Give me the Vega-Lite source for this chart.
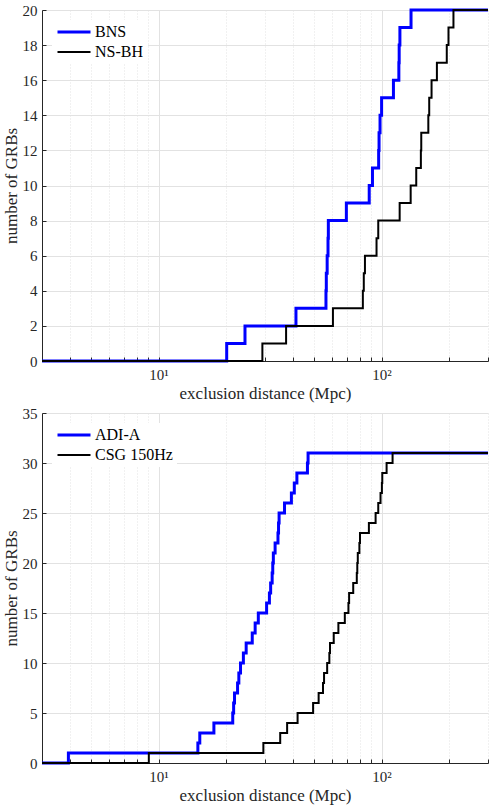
{
  "$schema": "https://vega.github.io/schema/vega-lite/v6.json",
  "padding": {"left": 2, "top": 3, "right": 2, "bottom": 2},
  "bounds": "flush",
  "spacing": 52,
  "resolve": {
    "scale": {"color": "independent", "strokeWidth": "independent", "x": "independent", "y": "independent"},
    "legend": {"color": "independent", "strokeWidth": "independent"}
  },
  "config": {
    "view": {"stroke": null},
    "font": "Liberation Serif",
    "axis": {
      "domainColor": "#262626",
      "domainWidth": 1,
      "tickColor": "#262626",
      "tickSize": -4,
      "labelColor": "#262626",
      "titleColor": "#262626",
      "labelFont": "Liberation Serif",
      "titleFont": "Liberation Serif",
      "labelFontSize": 15,
      "titleFontSize": 17,
      "titleFontWeight": "normal",
      "gridColor": "#e2e2e2",
      "gridWidth": 1
    },
    "axisY": {"labelPadding": 9, "titlePadding": 2},
    "axisX": {"labelPadding": 10, "titlePadding": 3},
    "legend": {
      "orient": "top-left",
      "offset": 10,
      "padding": 4,
      "fillColor": "white",
      "symbolType": "stroke",
      "symbolSize": 1089,
      "clipHeight": 16,
      "rowPadding": 4,
      "labelOffset": 3,
      "labelFont": "Liberation Serif",
      "labelFontSize": 16,
      "labelColor": "#000000"
    }
  },
  "datasets": {
    "top": [
      {"s": "BNS", "d": 3, "n": 0},
      {"s": "BNS", "d": 20.2, "n": 1},
      {"s": "BNS", "d": 24.4, "n": 2},
      {"s": "BNS", "d": 41.3, "n": 3},
      {"s": "BNS", "d": 56.3, "n": 4},
      {"s": "BNS", "d": 56.5, "n": 5},
      {"s": "BNS", "d": 57.0, "n": 6},
      {"s": "BNS", "d": 57.5, "n": 7},
      {"s": "BNS", "d": 57.7, "n": 8},
      {"s": "BNS", "d": 69.5, "n": 9},
      {"s": "BNS", "d": 88.0, "n": 10},
      {"s": "BNS", "d": 91.0, "n": 11},
      {"s": "BNS", "d": 97.0, "n": 12},
      {"s": "BNS", "d": 97.4, "n": 13},
      {"s": "BNS", "d": 98.4, "n": 14},
      {"s": "BNS", "d": 100.0, "n": 15},
      {"s": "BNS", "d": 113.0, "n": 16},
      {"s": "BNS", "d": 119.5, "n": 17},
      {"s": "BNS", "d": 119.9, "n": 18},
      {"s": "BNS", "d": 120.8, "n": 19},
      {"s": "BNS", "d": 135.5, "n": 20},
      {"s": "BNS", "d": 300, "n": 20},
      {"s": "NS-BH", "d": 3, "n": 0},
      {"s": "NS-BH", "d": 29.2, "n": 1},
      {"s": "NS-BH", "d": 37.3, "n": 2},
      {"s": "NS-BH", "d": 60.5, "n": 3},
      {"s": "NS-BH", "d": 82.4, "n": 4},
      {"s": "NS-BH", "d": 83.2, "n": 5},
      {"s": "NS-BH", "d": 84.2, "n": 6},
      {"s": "NS-BH", "d": 94.9, "n": 7},
      {"s": "NS-BH", "d": 96.6, "n": 8},
      {"s": "NS-BH", "d": 120.5, "n": 9},
      {"s": "NS-BH", "d": 135.0, "n": 10},
      {"s": "NS-BH", "d": 143.0, "n": 11},
      {"s": "NS-BH", "d": 150.0, "n": 12},
      {"s": "NS-BH", "d": 150.6, "n": 13},
      {"s": "NS-BH", "d": 162.0, "n": 14},
      {"s": "NS-BH", "d": 163.5, "n": 15},
      {"s": "NS-BH", "d": 167.5, "n": 16},
      {"s": "NS-BH", "d": 177.0, "n": 17},
      {"s": "NS-BH", "d": 196.0, "n": 18},
      {"s": "NS-BH", "d": 199.5, "n": 19},
      {"s": "NS-BH", "d": 210.0, "n": 20},
      {"s": "NS-BH", "d": 300, "n": 20}
    ],
    "bottom": [
      {"s": "ADI-A", "d": 3, "n": 0},
      {"s": "ADI-A", "d": 3.94, "n": 1},
      {"s": "ADI-A", "d": 15.0, "n": 2},
      {"s": "ADI-A", "d": 15.3, "n": 3},
      {"s": "ADI-A", "d": 17.7, "n": 4},
      {"s": "ADI-A", "d": 21.5, "n": 5},
      {"s": "ADI-A", "d": 21.7, "n": 6},
      {"s": "ADI-A", "d": 21.9, "n": 7},
      {"s": "ADI-A", "d": 22.6, "n": 8},
      {"s": "ADI-A", "d": 22.9, "n": 9},
      {"s": "ADI-A", "d": 23.3, "n": 10},
      {"s": "ADI-A", "d": 24.0, "n": 11},
      {"s": "ADI-A", "d": 24.7, "n": 12},
      {"s": "ADI-A", "d": 26.3, "n": 13},
      {"s": "ADI-A", "d": 27.1, "n": 14},
      {"s": "ADI-A", "d": 28.0, "n": 15},
      {"s": "ADI-A", "d": 30.5, "n": 16},
      {"s": "ADI-A", "d": 31.4, "n": 17},
      {"s": "ADI-A", "d": 31.8, "n": 18},
      {"s": "ADI-A", "d": 32.3, "n": 19},
      {"s": "ADI-A", "d": 32.5, "n": 20},
      {"s": "ADI-A", "d": 32.7, "n": 21},
      {"s": "ADI-A", "d": 33.3, "n": 22},
      {"s": "ADI-A", "d": 34.3, "n": 23},
      {"s": "ADI-A", "d": 34.5, "n": 24},
      {"s": "ADI-A", "d": 34.7, "n": 25},
      {"s": "ADI-A", "d": 36.7, "n": 26},
      {"s": "ADI-A", "d": 39.4, "n": 27},
      {"s": "ADI-A", "d": 40.6, "n": 28},
      {"s": "ADI-A", "d": 41.7, "n": 29},
      {"s": "ADI-A", "d": 46.5, "n": 30},
      {"s": "ADI-A", "d": 46.8, "n": 31},
      {"s": "ADI-A", "d": 300, "n": 31},
      {"s": "CSG 150Hz", "d": 3, "n": 0},
      {"s": "CSG 150Hz", "d": 9.04, "n": 1},
      {"s": "CSG 150Hz", "d": 29.5, "n": 2},
      {"s": "CSG 150Hz", "d": 35.1, "n": 3},
      {"s": "CSG 150Hz", "d": 37.7, "n": 4},
      {"s": "CSG 150Hz", "d": 42.0, "n": 5},
      {"s": "CSG 150Hz", "d": 49.3, "n": 6},
      {"s": "CSG 150Hz", "d": 52.2, "n": 7},
      {"s": "CSG 150Hz", "d": 54.6, "n": 8},
      {"s": "CSG 150Hz", "d": 55.2, "n": 9},
      {"s": "CSG 150Hz", "d": 57.0, "n": 10},
      {"s": "CSG 150Hz", "d": 58.3, "n": 11},
      {"s": "CSG 150Hz", "d": 58.7, "n": 12},
      {"s": "CSG 150Hz", "d": 61.0, "n": 13},
      {"s": "CSG 150Hz", "d": 64.0, "n": 14},
      {"s": "CSG 150Hz", "d": 68.4, "n": 15},
      {"s": "CSG 150Hz", "d": 71.0, "n": 16},
      {"s": "CSG 150Hz", "d": 71.5, "n": 17},
      {"s": "CSG 150Hz", "d": 74.6, "n": 18},
      {"s": "CSG 150Hz", "d": 77.4, "n": 19},
      {"s": "CSG 150Hz", "d": 77.8, "n": 20},
      {"s": "CSG 150Hz", "d": 78.2, "n": 21},
      {"s": "CSG 150Hz", "d": 79.5, "n": 22},
      {"s": "CSG 150Hz", "d": 80.0, "n": 23},
      {"s": "CSG 150Hz", "d": 87.7, "n": 24},
      {"s": "CSG 150Hz", "d": 94.0, "n": 25},
      {"s": "CSG 150Hz", "d": 96.6, "n": 26},
      {"s": "CSG 150Hz", "d": 98.9, "n": 27},
      {"s": "CSG 150Hz", "d": 100.3, "n": 28},
      {"s": "CSG 150Hz", "d": 100.7, "n": 29},
      {"s": "CSG 150Hz", "d": 105.3, "n": 30},
      {"s": "CSG 150Hz", "d": 112.0, "n": 31},
      {"s": "CSG 150Hz", "d": 300, "n": 31}
    ]
  },
  "vconcat": [
    {
      "width": 446,
      "height": 351,
      "data": {"name": "top"},
      "mark": {"type": "line", "interpolate": "step-after"},
      "encoding": {
        "x": {
          "field": "d", "type": "quantitative",
          "scale": {"type": "log", "domain": [3, 300], "nice": false},
          "axis": {
            "values": [3, 4, 5, 6, 7, 8, 9, 10, 20, 30, 40, 50, 60, 70, 80, 90, 100, 200, 300],
            "labelExpr": "datum.value == 10 ? '10¹' : datum.value == 100 ? '10²' : ''",
            "title": "exclusion distance (Mpc)",
            "gridDash": {"condition": {"test": "datum.value == 10 || datum.value == 100", "value": []}, "value": [1, 2]}
          }
        },
        "y": {
          "field": "n", "type": "quantitative",
          "scale": {"domain": [0, 20], "nice": false},
          "axis": {"values": [0, 2, 4, 6, 8, 10, 12, 14, 16, 18, 20], "title": "number of GRBs"}
        },
        "color": {
          "field": "s", "type": "nominal",
          "scale": {"domain": ["BNS", "NS-BH"], "range": ["#0000ff", "#000000"]},
          "legend": {"title": null}
        },
        "strokeWidth": {
          "field": "s", "type": "nominal",
          "scale": {"domain": ["BNS", "NS-BH"], "range": [3, 2]},
          "legend": {"title": null}
        }
      }
    },
    {
      "width": 446,
      "height": 350,
      "data": {"name": "bottom"},
      "mark": {"type": "line", "interpolate": "step-after"},
      "encoding": {
        "x": {
          "field": "d", "type": "quantitative",
          "scale": {"type": "log", "domain": [3, 300], "nice": false},
          "axis": {
            "values": [3, 4, 5, 6, 7, 8, 9, 10, 20, 30, 40, 50, 60, 70, 80, 90, 100, 200, 300],
            "labelExpr": "datum.value == 10 ? '10¹' : datum.value == 100 ? '10²' : ''",
            "title": "exclusion distance (Mpc)",
            "gridDash": {"condition": {"test": "datum.value == 10 || datum.value == 100", "value": []}, "value": [1, 2]}
          }
        },
        "y": {
          "field": "n", "type": "quantitative",
          "scale": {"domain": [0, 35], "nice": false},
          "axis": {"values": [0, 5, 10, 15, 20, 25, 30, 35], "title": "number of GRBs"}
        },
        "color": {
          "field": "s", "type": "nominal",
          "scale": {"domain": ["ADI-A", "CSG 150Hz"], "range": ["#0000ff", "#000000"]},
          "legend": {"title": null}
        },
        "strokeWidth": {
          "field": "s", "type": "nominal",
          "scale": {"domain": ["ADI-A", "CSG 150Hz"], "range": [3, 2]},
          "legend": {"title": null}
        }
      }
    }
  ]
}
